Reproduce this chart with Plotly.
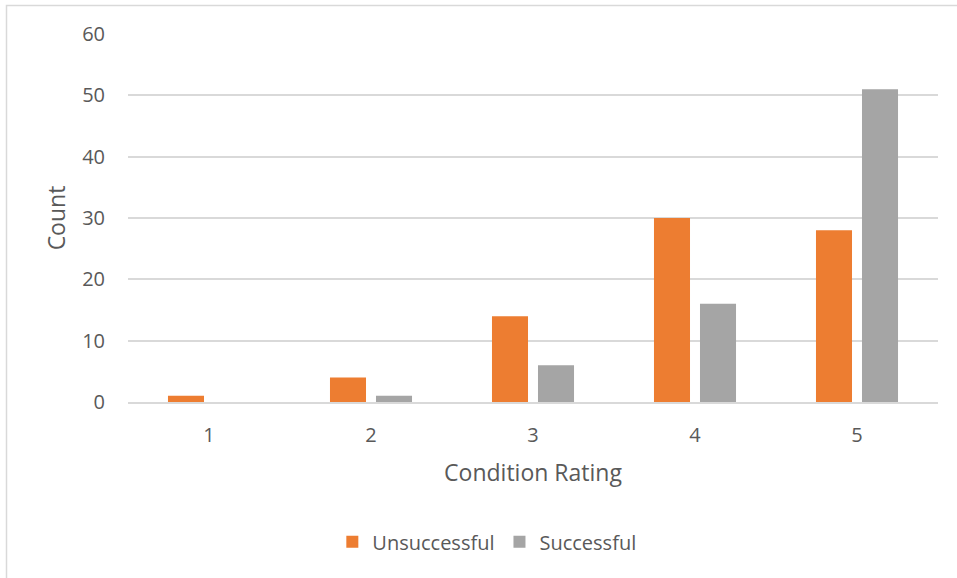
import plotly.graph_objects as go

# Counts of outcomes by condition rating
ratings = ["1", "2", "3", "4", "5"]
unsuccessful = [1, 4, 14, 30, 28]
successful = [0, 1, 6, 16, 51]

text_color = "#595959"
grid_color = "#d9d9d9"
font_family = "Open Sans, Liberation Sans, sans-serif"

fig = go.Figure()
fig.add_trace(go.Bar(x=ratings, y=unsuccessful, name="Unsuccessful",
                     marker=dict(color="#ED7D31", line=dict(width=0))))
fig.add_trace(go.Bar(x=ratings, y=successful, name="Successful",
                     marker=dict(color="#A5A5A5", line=dict(width=0))))

fig.update_layout(
    width=957, height=578,
    margin=dict(l=128, r=19, t=34, b=176),
    paper_bgcolor="white", plot_bgcolor="white",
    barmode="group", bargap=0.432, bargroupgap=0.217,
    font=dict(family=font_family, color=text_color, size=20),
    showlegend=True,
    legend=dict(orientation="h", x=0.443, xanchor="center", y=-0.38, yanchor="middle",
                font=dict(size=20, color=text_color), traceorder="normal",
                itemwidth=30),
    xaxis=dict(
        title=dict(text="Condition Rating", font=dict(size=23, color=text_color), standoff=18),
        showgrid=False, showline=True, linecolor=grid_color, linewidth=1.5,
        ticks="", ticklabelstandoff=14,
        tickfont=dict(size=20, color=text_color), fixedrange=True,
    ),
    yaxis=dict(
        title=dict(text="Count", font=dict(size=23, color=text_color), standoff=10),
        range=[0, 60], dtick=10, showgrid=True, gridcolor=grid_color, gridwidth=1.5,
        zeroline=False, showline=False, ticks="", ticklen=0, ticklabelstandoff=22,
        tickfont=dict(size=20, color=text_color), fixedrange=True,
    ),
    shapes=[dict(type="rect", xref="paper", yref="paper",
                 x0=-0.15, x1=1.1, y0=-0.6, y1=1.0774,
                 line=dict(color=grid_color, width=1.5), layer="below")],
)

fig.write_html("out.html")
